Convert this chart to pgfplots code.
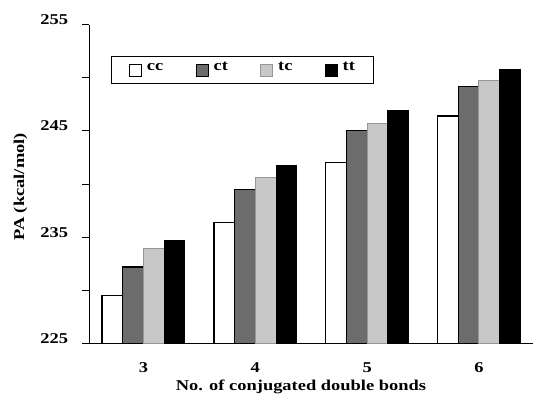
\documentclass[border=0pt]{standalone}
\usepackage{fontspec}
\setmainfont{Liberation Serif}[FakeStretch=1.23]
\usepackage{pgfplots}
\pgfplotsset{compat=1.18}
\definecolor{ctgray}{RGB}{108,108,108}
\definecolor{tcgray}{RGB}{200,200,200}
\definecolor{tcedge}{RGB}{150,150,150}
\begin{document}
\begin{tikzpicture}
\begin{axis}[
  name=ax,
  scale only axis,
  width=443.8bp, height=319bp,
  xmin=2.514, xmax=6.483,
  ymin=225, ymax=255,
  ybar=0pt, bar width=20.7bp,
  axis x line=bottom, axis y line=left,
  axis line style={-, line width=1.3bp},
  font=\bfseries\fontsize{15bp}{18bp}\selectfont,
  /pgf/number format/assume math mode=true,
  xtick={3,4,5,6}, xticklabels={3,4,5,6},
  xtick style={draw=none},
  ytick={225,230,...,255}, yticklabels={225,,235,,245,,255},
  tick align=outside, major tick length=6.7bp,
  ytick style={line width=1bp, black},
  yticklabel style={anchor=base east, inner sep=0pt, xshift=-14.2bp},
  xticklabel style={anchor=base, inner sep=0pt, yshift=-22.5bp},
  xlabel={No. of conjugated double bonds},
  ylabel={PA (kcal/mol)},
  xlabel style={at={(axis description cs:0.4772,-0.1458)}, anchor=base},
  ylabel style={at={(axis description cs:-0.1548,0.4906)}, anchor=center},
  legend columns=4,
  legend image code/.code={\draw[#1, line width=1bp] (0bp,-6bp) rectangle (12bp,6bp);},
  legend style={at={(axis description cs:0,1)}, anchor=north west,
    xshift=21.7bp, yshift=-31.5bp, draw=black, line width=0.8bp,
    inner xsep=18bp, inner ysep=6bp,
    nodes={inner sep=0pt, anchor=base},
    /tikz/every odd column/.append style={column sep=4.7bp},
    /tikz/every even column/.append style={column sep=32.5bp}},
]
\addplot[draw=black, fill=white, line width=1.3bp] coordinates {(3,229.5) (4,236.4) (5,242.0) (6,246.4)};
\addplot[draw=black, fill=ctgray, line width=1.3bp] coordinates {(3,232.2) (4,239.5) (5,245.0) (6,249.2)};
\addplot[draw=tcedge, fill=tcgray, line width=1bp] coordinates {(3,233.9) (4,240.6) (5,245.7) (6,249.7)};
\addplot[draw=black, fill=black, line width=1bp] coordinates {(3,234.7) (4,241.7) (5,246.9) (6,250.8)};
\legend{cc,ct,tc,tt}
\draw[line width=1.3bp] (rel axis cs:0,0) -- ++(-7bp,0);
\end{axis}
\pgfresetboundingbox
\path[use as bounding box] ([xshift=-89.2bp,yshift=-52.5bp]ax.south west) rectangle ([yshift=24.5bp]ax.north east);
\end{tikzpicture}
\end{document}
